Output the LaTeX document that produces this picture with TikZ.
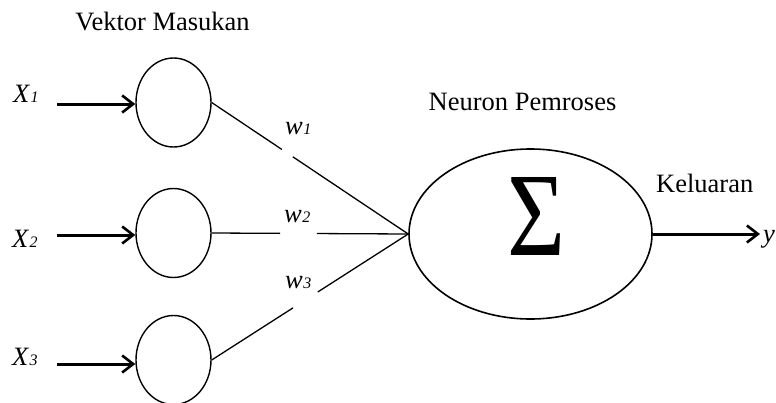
\documentclass[tikz,border=0pt]{standalone}
\usepackage{fontspec}
\setmainfont{Liberation Serif}
\usetikzlibrary{shapes.geometric,arrows.meta,calc}
\newcommand\sublab[2]{\textit{#1}\kern0.5pt{\fontsize{16}{16}\selectfont\textit{#2}}}
\tikzset{
  lbl/.style={font=\fontsize{26.5}{30}\selectfont, inner sep=0pt},
  inp/.style={draw, ellipse, line width=1.4pt, minimum width=75pt, minimum height=89pt, inner sep=0pt},
  proc/.style={draw, ellipse, line width=1.6pt, minimum width=243pt, minimum height=170pt, inner sep=0pt},
  thick arrow/.style={line width=3pt, -{Straight Barb[length=11pt,width=17pt,line width=2.6pt]}},
  wline/.style={line width=1.3pt}
}
\begin{document}
\begin{tikzpicture}[x=1pt,y=-1pt]
\useasboundingbox (0,0) rectangle (776,402);
% input neurons
\node[inp] (in1) at (173.5,102.5) {};
\node[inp] (in2) at (173.5,233) {};
\node[inp] (in3) at (173.5,360) {};
% processing neuron
\node[proc] (sum) at (530.5,234) {};
\node (sig) at (536,216) {\resizebox{58pt}{78pt}{Σ}};
% labels
\node[lbl, anchor=base] (vm) at (162.5,30) {Vektor Masukan};
\node[lbl, anchor=base] (np) at (522.5,110) {Neuron Pemroses};
\node[lbl, anchor=base west] (kel) at (656,192) {Keluaran};
\node[lbl, anchor=base west] (x1) at (13,102) {\sublab{X}{1}};
\node[lbl, anchor=base west] (x2) at (12,247) {\sublab{X}{2}};
\node[lbl, anchor=base west] (x3) at (12,365) {\sublab{X}{3}};
\node[lbl, anchor=base west] (w1) at (285,134) {\sublab{w}{1}};
\node[lbl, anchor=base west] (w2) at (284,222) {\sublab{w}{2}};
\node[lbl, anchor=base west] (w3) at (285,288) {\sublab{w}{3}};
\node[lbl, anchor=base west] (yout) at (763,242) {\textit{y}};
% input arrows
\coordinate (s1) at (57,104);
\coordinate (s2) at (57,235);
\coordinate (s3) at (57,364);
\draw[thick arrow] (s1) -- (s1 -| in1.west);
\draw[thick arrow] (s2) -- (s2 -| in2.west);
\draw[thick arrow] (s3) -- (s3 -| in3.west);
% weighted connections with gaps for labels
\coordinate (c) at (sum.west);
\draw[wline] (in1.east) -- ($(in1.east)!0.357!(c)$);
\draw[wline] ($(in1.east)!0.413!(c)$) -- (c);
\draw[wline] (in2.east) -- ($(in2.east)!0.348!(c)$);
\draw[wline] ($(in2.east)!0.535!(c)$) -- (c);
\draw[wline] (in3.east) -- ($(in3.east)!0.414!(c)$);
\draw[wline] ($(in3.east)!0.540!(c)$) -- (c);
% output arrow
\coordinate (o) at (760,234);
\draw[thick arrow] (sum.east) -- (o);
\end{tikzpicture}
\end{document}
